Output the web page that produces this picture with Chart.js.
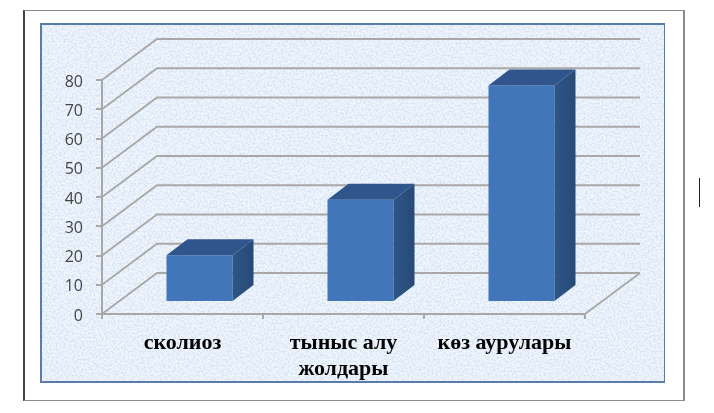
<!DOCTYPE html>
<html>
<head>
<meta charset="utf-8">
<script src="https://cdn.jsdelivr.net/npm/chart.js@4"></script>
<style>
    html, body { margin: 0; padding: 0; background: #fff; }
    .c-page { position: relative; width: 714px; height: 413px; overflow: hidden; }
    .c-frame { position: absolute; left: 23px; top: 10px; width: 662px; height: 391px; box-sizing: border-box;
        border: 1px solid #8c8c8c; border-width: 1px 2px 1px 2px; border-left-color: #444; border-top-color: #888; }
    .c-mark { position: absolute; left: 699px; top: 178px; width: 1px; height: 29px; background: #222; }
    .c-panel { position: absolute; left: 40px; top: 23px; width: 625px; height: 360px; box-sizing: border-box;
        border: 2px solid #5a7cab; border-right-width: 1px; background-color: #dbe8f7;
        background-image: url("data:image/svg+xml;utf8,<svg xmlns='http://www.w3.org/2000/svg' width='640' height='380'><filter id='n' x='0' y='0' width='100%' height='100%'><feTurbulence type='fractalNoise' baseFrequency='0.5' numOctaves='4' seed='7'/><feColorMatrix values='0 0 0 0 0.68  0 0 0 0 0.78  0 0 0 0 0.92  3.6 0 0 0 -1.45'/></filter><rect width='640' height='380' fill='%23f1f6fc'/><rect width='640' height='380' filter='url(%23n)'/></svg>"); }
    canvas { position: absolute; left: 0; top: 0; }
</style>
</head>
<body>
<div class="c-page">
    <div class="c-frame"></div>
    <div class="c-panel"></div>
    <div class="c-mark"></div>
    <canvas id="diseases" width="714" height="413"></canvas>
</div>
<script>
'use strict';
const categories = [['сколиоз'], ['тыныс алу', 'жолдары'], ['көз аурулары']];
const amounts = [16, 35, 74];
const yTicks = [0, 10, 20, 30, 40, 50, 60, 70, 80];

// fake 3d: back wall offset, where the bars stand on the floor, and bar depth
const wall = { dx: 55, dy: -41 };
const stand = { dx: 17, dy: -12 };
const depth = { dx: 21, dy: -16 };

const face = function (ctx, points, color) {
    ctx.beginPath();
    points.forEach((p, i) => (i ? ctx.lineTo(p[0], p[1]) : ctx.moveTo(p[0], p[1])));
    ctx.closePath();
    ctx.fillStyle = color;
    ctx.fill();
};

const fake3d = {
    id: 'fake3d',
    beforeDatasetsDraw: function (chart) {
        const ctx = chart.ctx, area = chart.chartArea, y = chart.scales.y;
        ctx.save();
        ctx.strokeStyle = '#aaa8a6';
        ctx.lineWidth = 1.8;
        for (let tick of yTicks) {
            let py = y.getPixelForValue(tick);
            ctx.beginPath();
            ctx.moveTo(area.left, py);
            ctx.lineTo(area.left + wall.dx, py + wall.dy);
            ctx.lineTo(area.right + wall.dx, py + wall.dy);
            ctx.stroke();
        }
        // right edge of the floor
        let py0 = y.getPixelForValue(0);
        ctx.beginPath();
        ctx.moveTo(area.right, py0);
        ctx.lineTo(area.right + wall.dx, py0 + wall.dy);
        ctx.stroke();
        ctx.restore();

        ctx.save();
        ctx.translate(stand.dx, stand.dy);
    },
    afterDatasetsDraw: function (chart) {
        const ctx = chart.ctx;
        for (let bar of chart.getDatasetMeta(0).data) {
            let l = bar.x - bar.width / 2, r = bar.x + bar.width / 2;
            let grad = ctx.createLinearGradient(r, 0, r + depth.dx, 0);
            grad.addColorStop(0, '#2f5686');
            grad.addColorStop(1, '#274a77');
            face(ctx, [[l, bar.y], [r, bar.y], [r + depth.dx, bar.y + depth.dy], [l + depth.dx, bar.y + depth.dy]], '#2f558c');
            face(ctx, [[r, bar.y], [r + depth.dx, bar.y + depth.dy], [r + depth.dx, bar.base + depth.dy], [r, bar.base]], grad);
        }
        ctx.restore();
    }
};

const loadGraph = function () {
    const ctx = document.getElementById('diseases').getContext('2d');
    new Chart(ctx, {
        type: 'bar',
        data: {
            labels: categories,
            datasets: [{
                data: amounts,
                backgroundColor: '#4176bb',
                barPercentage: 1,
                categoryPercentage: 0.41
            }]
        },
        options: {
            responsive: false,
            animation: false,
            layout: { padding: { top: 80, right: 129, left: 0, bottom: 0 } },
            plugins: { legend: { display: false }, tooltip: { enabled: false } },
            scales: {
                x: {
                    afterFit: (scale) => { scale.height = 99; },
                    border: { color: '#aaa8a6', width: 2 },
                    grid: { drawOnChartArea: false, color: '#aaa8a6', tickLength: 5, lineWidth: 2 },
                    ticks: {
                        color: '#050505',
                        maxRotation: 0,
                        autoSkip: false,
                        padding: 11,
                        font: { family: '"Liberation Serif"', size: 22, weight: 'bold', lineHeight: 1.18 }
                    }
                },
                y: {
                    min: 0,
                    max: 80,
                    afterFit: (scale) => { scale.width = 102; },
                    afterBuildTicks: (scale) => { scale.ticks = yTicks.map((v) => ({ value: v })); },
                    border: { color: '#aaa8a6', width: 2 },
                    grid: { drawOnChartArea: false, color: '#aaa8a6', tickLength: 6, lineWidth: 2 },
                    ticks: {
                        color: '#444',
                        padding: 13,
                        // empty first line pushes the number 2px below its tick, as in the picture
                        callback: (value) => ['', value],
                        font: { family: '"Open Sans"', size: 16, lineHeight: 0.25 }
                    }
                }
            }
        },
        plugins: [fake3d]
    });
};

document.addEventListener('DOMContentLoaded', function () {
    loadGraph();
});
</script>
</body>
</html>
